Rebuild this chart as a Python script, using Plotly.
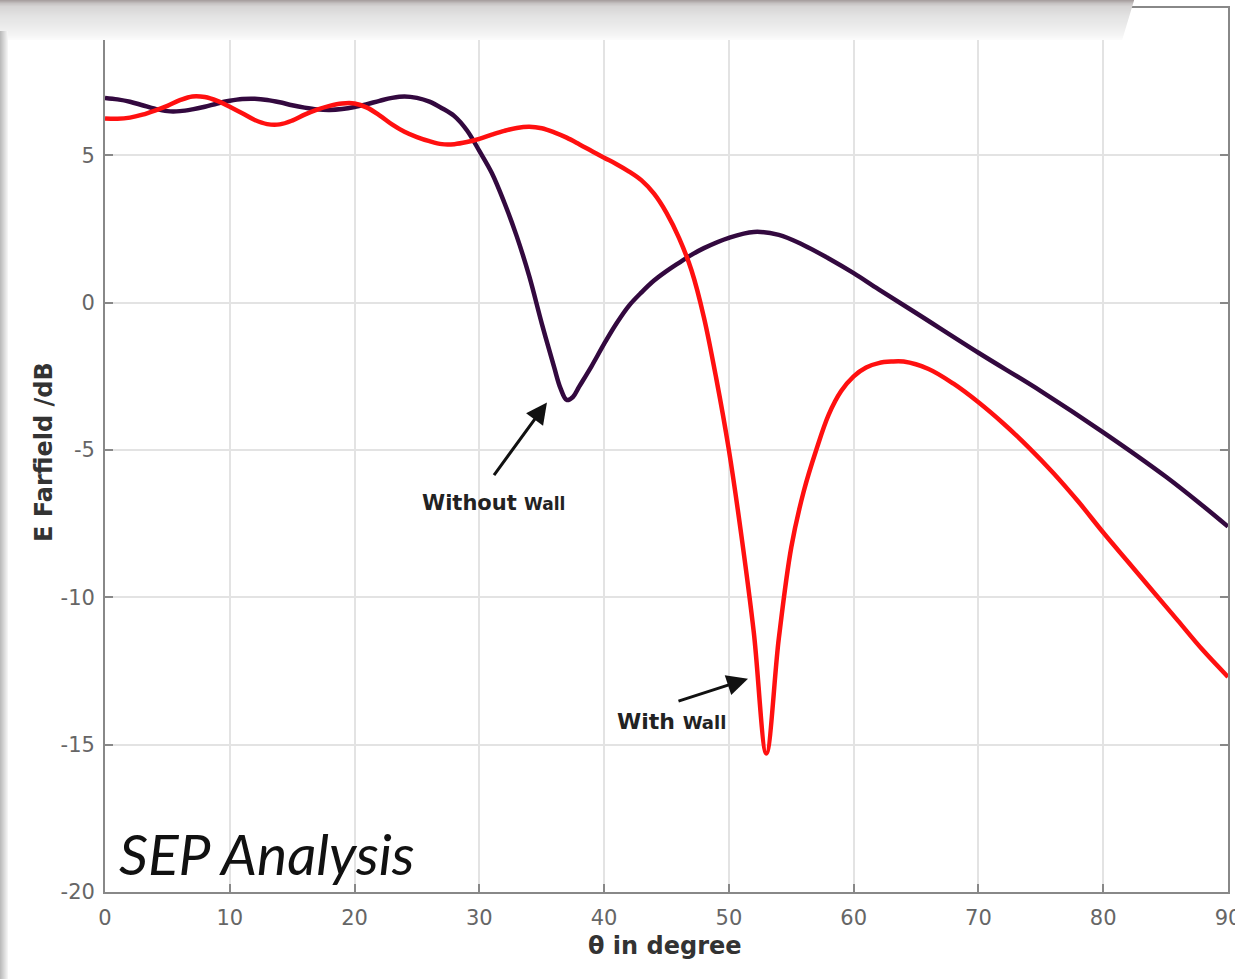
import plotly.graph_objects as go

# Far-field E-plane pattern, theta in degrees vs level in dB
theta_without = [0, 1, 2, 3, 4, 5, 6, 7, 8, 9, 10, 11, 12, 13, 14, 15, 16, 17, 18, 19, 20,
                 21, 22, 23, 24, 25, 26, 27, 28, 29, 30, 31, 32, 33, 34, 35, 36, 36.5, 37,
                 37.5, 38, 39, 40, 41, 42, 43, 44, 45, 46, 47, 48, 50, 52, 54, 56, 58, 60,
                 62, 65, 70, 75, 80, 85, 88, 90]
without_db = [6.95, 6.9, 6.82, 6.7, 6.58, 6.5, 6.5, 6.56, 6.65, 6.76, 6.85, 6.91, 6.92, 6.88,
              6.8, 6.7, 6.62, 6.56, 6.54, 6.57, 6.64, 6.74, 6.85, 6.95, 7.0, 6.95, 6.82, 6.6,
              6.33, 5.85, 5.15, 4.4, 3.4, 2.25, 0.9, -0.7, -2.2, -2.9, -3.3, -3.2, -2.85,
              -2.15, -1.4, -0.7, -0.1, 0.35, 0.75, 1.07, 1.35, 1.62, 1.85, 2.2, 2.4, 2.3,
              1.95, 1.5, 1.0, 0.45, -0.35, -1.7, -3.0, -4.4, -5.9, -6.9, -7.6]

theta_with = [0, 1, 2, 3, 4, 5, 6, 7, 8, 9, 10, 11, 12, 13, 14, 15, 16, 17, 18, 19, 20, 21,
              22, 23, 24, 25, 26, 27, 28, 29, 30, 31, 32, 33, 34, 35, 36, 37, 38, 39, 40,
              41, 42, 43, 44, 45, 46, 47, 48, 49, 50, 51, 52, 53, 54, 55, 56, 57, 58, 59,
              60, 61, 62, 63, 64, 66, 68, 70, 72, 74, 76, 78, 80, 82, 84, 86, 88, 90]
with_db = [6.25, 6.24, 6.28, 6.38, 6.52, 6.68, 6.87, 7.0, 6.98, 6.85, 6.65, 6.43, 6.2, 6.06,
           6.05, 6.18, 6.38, 6.55, 6.68, 6.76, 6.76, 6.62, 6.36, 6.05, 5.8, 5.62, 5.48, 5.38,
           5.38, 5.45, 5.56, 5.7, 5.83, 5.93, 5.97, 5.92, 5.78, 5.6, 5.38, 5.15, 4.92, 4.7,
           4.45, 4.15, 3.7, 3.05, 2.2, 1.1, -0.5, -2.6, -5.0, -7.9, -11.2, -15.3, -11.4,
           -8.3, -6.4, -5.0, -3.8, -3.0, -2.5, -2.2, -2.05, -2.0, -2.0, -2.25, -2.75, -3.38,
           -4.1, -4.9, -5.78, -6.75, -7.8, -8.8, -9.8, -10.8, -11.8, -12.7]

x_ticks = [0, 10, 20, 30, 40, 50, 60, 70, 80, 90]
y_ticks = [-20, -15, -10, -5, 0, 5]

W, H = 1235, 979
ML, MR, MT, MB = 105, 7, 8, 87
PW, PH = W - ML - MR, H - MT - MB


def px_x(p):
    return (p - ML) / PW


def px_y(p):
    return (H - MB - p) / PH


fig = go.Figure()
fig.add_trace(go.Scatter(x=theta_without, y=without_db, mode="lines",
                         line=dict(color="#33093f", width=4.5, shape="spline", smoothing=1.0),
                         showlegend=False))
fig.add_trace(go.Scatter(x=theta_with, y=with_db, mode="lines",
                         line=dict(color="#ff1010", width=4.5, shape="spline", smoothing=1.0),
                         showlegend=False))

axis_common = dict(showline=True, linecolor="#888888", linewidth=1.8, mirror="ticks",
                   ticks="inside", ticklen=8, tickwidth=1.5, tickcolor="#888888",
                   showgrid=True, gridcolor="#e3e3e3", gridwidth=2, zeroline=False,
                   ticklabeloverflow="allow", automargin=False,
                   tickfont=dict(family="DejaVu Sans", size=21, color="#666666"))

fig.update_xaxes(range=[0, 90], tickvals=x_ticks, ticktext=[str(v) for v in x_ticks],
                 ticklabelstandoff=6, **axis_common)
fig.update_yaxes(range=[-20, 10], tickvals=y_ticks, ticktext=[str(v) for v in y_ticks],
                 ticklabelstandoff=4, **axis_common)

annotations = [
    dict(x=35.42, y=-3.39, ax=31.09, ay=-5.90, xref="x", yref="y", axref="x", ayref="y",
         text="", showarrow=True, arrowhead=2, arrowsize=1.4, arrowwidth=3, arrowcolor="#111111"),
    dict(x=51.53, y=-12.76, ax=45.84, ay=-13.54, xref="x", yref="y", axref="x", ayref="y",
         text="", showarrow=True, arrowhead=2, arrowsize=1.4, arrowwidth=3, arrowcolor="#111111"),
    dict(x=31.17, y=-6.79, xref="x", yref="y", showarrow=False,
         text="Without <span style='font-size:17px'>Wall</span>",
         font=dict(family="DejaVu Sans", size=21, color="#222222", weight="bold")),
    dict(x=45.44, y=-14.22, xref="x", yref="y", showarrow=False,
         text="With <span style='font-size:18px'>Wall</span>",
         font=dict(family="DejaVu Sans", size=22, color="#222222", weight="bold")),
    dict(x=1.0, y=-18.66, xref="x", yref="y", xanchor="left", showarrow=False,
         text="<i>SEP Analysis</i>",
         font=dict(family="Lato", size=57, color="#111111")),
    dict(x=px_x(665), y=px_y(962), xref="paper", yref="paper", showarrow=False,
         text="θ in degree",
         font=dict(family="DejaVu Sans", size=24, color="#333333", weight="bold")),
    dict(x=px_x(28), y=px_y(452), xref="paper", yref="paper", showarrow=False,
         text="E Farfield /dB", textangle=-90,
         font=dict(family="DejaVu Sans", size=24, color="#333333", weight="bold")),
]


def mix(c0, c1, t):
    return "#" + "".join(f"{round(a + (b - a) * t):02x}" for a, b in zip(c0, c1))


# Grey header band fading downward, and the strip down the left edge
shapes = []
band_stops = [(0, (0xa8, 0xa0, 0xa0)), (3, (0xc6, 0xc2, 0xc2)), (6, (0xd6, 0xd4, 0xd4)),
              (15, (0xe2, 0xe2, 0xe2)), (26, (0xec, 0xec, 0xec)), (35, (0xf5, 0xf5, 0xf5)),
              (40, (0xfd, 0xfd, 0xfd))]
for (y0, c0), (y1, c1) in zip(band_stops[:-1], band_stops[1:]):
    for yy in range(y0, y1):
        t = (yy - y0) / (y1 - y0)
        shapes.append(dict(type="rect", xref="paper", yref="paper", layer="above",
                           x0=px_x(0), x1=px_x(1134 - yy * 0.3), y0=px_y(yy + 1), y1=px_y(yy),
                           fillcolor=mix(c0, c1, t), line=dict(width=0)))
left_cols = ["#bcbcbc", "#c4c4c4", "#cccccc", "#d4d4d4", "#dcdcdc", "#e4e4e4", "#ececec",
             "#f4f4f4"]
for i, col in enumerate(left_cols):
    shapes.append(dict(type="rect", xref="paper", yref="paper", layer="above",
                       x0=px_x(i), x1=px_x(i + 1), y0=px_y(H), y1=px_y(31),
                       fillcolor=col, line=dict(width=0)))

fig.update_layout(width=W, height=H, margin=dict(l=ML, r=MR, t=MT, b=MB, autoexpand=False),
                  paper_bgcolor="white", plot_bgcolor="white",
                  annotations=annotations, shapes=shapes)

fig.write_html("out.html")
